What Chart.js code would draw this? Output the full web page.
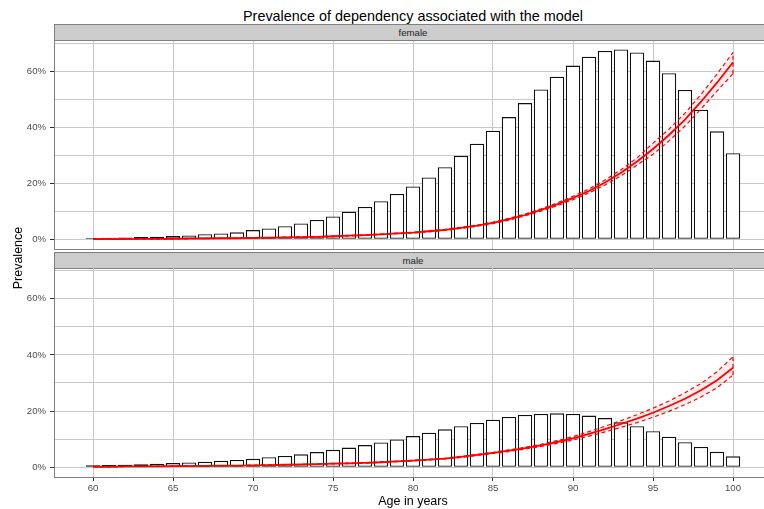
<!DOCTYPE html>
<html>
<head>
<meta charset="utf-8">
<script src="https://cdn.jsdelivr.net/npm/chart.js@4.4.1/dist/chart.umd.min.js"></script>
<style>
  html, body { margin: 0; padding: 0; background: #fff; }
  body { width: 764px; height: 509px; position: relative; overflow: hidden;
         font-family: "Liberation Sans", Arial, sans-serif; }
  .title { position: absolute; left: 0; width: 826px; top: 7px; height: 18px; line-height: 18px;
           text-align: center; font-size: 14.4px; color: #000; white-space: nowrap; }
  .strip { position: absolute; left: 54px; width: 718px; height: 17px; box-sizing: border-box;
           background: #cccccc; border: 1px solid #7f7f7f; font-size: 9.6px; line-height: 15px;
           text-align: center; color: #1a1a1a; }
  .panel { position: absolute; left: 0; width: 764px; }
  .ylab { position: absolute; left: -82px; top: 250px; width: 200px; height: 16px; line-height: 16px;
          text-align: center; font-size: 12.5px; transform: rotate(-90deg); color: #000; }
  .xlab { position: absolute; left: 313px; width: 200px; top: 493px; height: 16px; line-height: 16px;
          text-align: center; font-size: 12.5px; color: #000; }
</style>
</head>
<body>
<div class="title">Prevalence of dependency associated with the model</div>
<div class="strip" style="top:24px">female</div>
<div class="panel" style="top:41px"><canvas id="female" width="764" height="210"></canvas></div>
<div class="strip" style="top:252px">male</div>
<div class="panel" style="top:268px"><canvas id="male" width="764" height="241"></canvas></div>
<div class="ylab">Prevalence</div>
<div class="xlab">Age in years</div>
<script>
// ages (one bar per year of age)
const ages = [60, 61, 62, 63, 64, 65, 66, 67, 68, 69,
              70, 71, 72, 73, 74, 75, 76, 77, 78, 79,
              80, 81, 82, 83, 84, 85, 86, 87, 88, 89,
              90, 91, 92, 93, 94, 95, 96, 97, 98, 99, 100];

// observed prevalence (%), bars
const femaleBars = [0.5, 0.6, 0.7, 0.8, 0.9, 1.2, 1.4, 1.8, 2.1, 2.5,
                    3.3, 3.9, 4.7, 5.7, 6.9, 8.2, 9.9, 11.6, 13.6, 16.2,
                    18.9, 22.1, 25.8, 29.8, 34.2, 38.8, 43.7, 48.7, 53.6, 58.1,
                    62.1, 65.3, 67.3, 67.9, 66.8, 63.9, 59.4, 53.4, 46.3, 38.6, 30.8];
const maleBars = [0.7, 0.8, 0.9, 1.1, 1.3, 1.5, 1.7, 2.0, 2.3, 2.6,
                  3.0, 3.6, 4.0, 4.6, 5.4, 6.2, 7.0, 7.9, 8.8, 9.9,
                  11.1, 12.3, 13.5, 14.6, 15.8, 16.9, 17.9, 18.6, 19.0, 19.2,
                  19.0, 18.4, 17.5, 16.0, 14.6, 12.8, 10.9, 8.9, 7.2, 5.5, 3.9];

// model prevalence (%) with confidence band
const femaleModel = [0.1, 0.1, 0.1, 0.2, 0.2, 0.2, 0.3, 0.3, 0.4, 0.4,
                     0.5, 0.6, 0.7, 0.8, 0.9, 1.1, 1.3, 1.5, 1.8, 2.1,
                     2.4, 2.9, 3.4, 4.1, 4.9, 5.9, 7.2, 8.7, 10.5, 12.5,
                     14.8, 17.3, 20.3, 23.8, 27.8, 32.3, 37.3, 42.8, 49.2, 56.0, 63.3];
const femaleLo = [0.1, 0.1, 0.1, 0.2, 0.2, 0.2, 0.3, 0.3, 0.4, 0.4,
                  0.5, 0.6, 0.7, 0.8, 0.9, 1.0, 1.2, 1.4, 1.7, 2.0,
                  2.3, 2.7, 3.2, 3.9, 4.7, 5.6, 6.9, 8.4, 10.1, 12.0,
                  14.2, 16.6, 19.4, 22.7, 26.5, 30.4, 35.2, 40.5, 46.6, 53.0, 59.2];
const femaleHi = [0.1, 0.1, 0.1, 0.2, 0.2, 0.2, 0.3, 0.3, 0.4, 0.4,
                  0.5, 0.6, 0.7, 0.8, 0.9, 1.2, 1.4, 1.6, 1.9, 2.2,
                  2.5, 3.1, 3.6, 4.3, 5.1, 6.2, 7.5, 9.0, 10.9, 13.0,
                  15.4, 18.0, 21.2, 24.9, 29.1, 34.4, 39.4, 45.1, 51.8, 59.1, 66.8];
const maleModel = [0.2, 0.2, 0.3, 0.3, 0.3, 0.4, 0.4, 0.5, 0.6, 0.6,
                   0.7, 0.8, 0.9, 1.0, 1.1, 1.3, 1.4, 1.6, 1.8, 2.1,
                   2.4, 2.7, 3.1, 3.7, 4.4, 5.1, 5.9, 6.8, 7.8, 9.0,
                   10.3, 11.9, 13.6, 15.4, 17.3, 19.4, 21.8, 24.4, 27.4, 31.0, 35.4];
const maleLo = [0.2, 0.2, 0.3, 0.3, 0.3, 0.4, 0.4, 0.5, 0.6, 0.6,
                0.7, 0.8, 0.9, 1.0, 1.1, 1.2, 1.3, 1.5, 1.7, 2.0,
                2.3, 2.6, 3.0, 3.5, 4.2, 4.9, 5.6, 6.5, 7.4, 8.5,
                9.7, 11.1, 12.6, 14.2, 15.9, 17.8, 19.9, 22.3, 25.0, 28.3, 32.8];
const maleHi = [0.2, 0.2, 0.3, 0.3, 0.3, 0.4, 0.4, 0.5, 0.6, 0.6,
                0.7, 0.8, 0.9, 1.0, 1.1, 1.4, 1.5, 1.7, 1.9, 2.2,
                2.5, 2.8, 3.2, 3.9, 4.6, 5.3, 6.2, 7.1, 8.2, 9.5,
                10.9, 12.7, 14.6, 16.6, 18.7, 21.0, 23.6, 26.5, 29.8, 34.0, 39.3];

// axis ranges
const xMin = 57.5625, xMax = 101.9375;
const yMin = -3.45, yMax = 70.9;

const FONT = '"Liberation Sans", Arial, sans-serif';
const RED = '#ff0000';
const GRID = '#c8c8c8';
const AXIS = '#7f7f7f';

function points(values) {
  return ages.map((a, i) => ({ x: a, y: values[i] }));
}

// keep the plot area exactly where the reference has it
function noPadding(s) {
  s.paddingTop = 0;
  s.paddingBottom = 0;
  s.paddingLeft = 0;
  s.paddingRight = 0;
}

function makePanel(canvasId, bars, model, lo, hi, showXLabels) {
  const last = ages.length - 1;
  return new Chart(document.getElementById(canvasId), {
    type: 'line',
    data: {
      datasets: [
        { data: points(model), borderColor: RED, borderWidth: 1.8, pointRadius: 0, fill: false, order: 0 },
        { data: points(lo), borderColor: RED, borderWidth: 1.2, borderDash: [4, 3], pointRadius: 0, fill: false, order: 1 },
        { data: points(hi), borderColor: RED, borderWidth: 1.2, borderDash: [4, 3], pointRadius: 0,
          fill: '-1', backgroundColor: 'rgba(255, 0, 0, 0.07)', order: 1 },
        { data: [{ x: ages[last], y: lo[last] }, { x: ages[last], y: hi[last] }],
          borderColor: RED, borderWidth: 1.2, borderDash: [4, 3], pointRadius: 0, fill: false, order: 1 },
        { type: 'bar', data: points(bars), backgroundColor: '#ffffff', borderColor: '#111111',
          borderWidth: 1.3, borderSkipped: false, categoryPercentage: 1, barPercentage: 0.9, order: 3 }
      ]
    },
    options: {
      responsive: false,
      animation: false,
      events: [],
      layout: { padding: 0 },
      plugins: { legend: { display: false }, tooltip: { enabled: false }, title: { display: false } },
      scales: {
        x: {
          type: 'linear', min: xMin, max: xMax, offset: false,
          afterFit: s => { s.height = showXLabels ? 32 : 2; noPadding(s); },
          border: { display: true, color: AXIS, width: 1 },
          grid: { color: GRID, offset: false, drawTicks: showXLabels, tickLength: 4, tickColor: '#333' },
          ticks: { display: showXLabels, stepSize: 5, includeBounds: false, autoSkip: false, maxRotation: 0,
                   padding: 2, color: '#4d4d4d', font: { family: FONT, size: 9.6 } }
        },
        y: {
          min: yMin, max: yMax,
          afterFit: s => { s.width = 54; noPadding(s); },
          border: { display: true, color: AXIS, width: 1 },
          grid: { color: GRID, tickLength: 4,
                  tickColor: ctx => (ctx.tick && ctx.tick.value % 20 === 0) ? '#333' : 'rgba(0,0,0,0)' },
          ticks: { stepSize: 10, includeBounds: false, padding: 4, color: '#4d4d4d',
                   font: { family: FONT, size: 9.6 },
                   callback: v => (v % 20 === 0 ? v + '%' : '') }
        }
      }
    }
  });
}

makePanel('female', femaleBars, femaleModel, femaleLo, femaleHi, false);
makePanel('male', maleBars, maleModel, maleLo, maleHi, true);
</script>
</body>
</html>
